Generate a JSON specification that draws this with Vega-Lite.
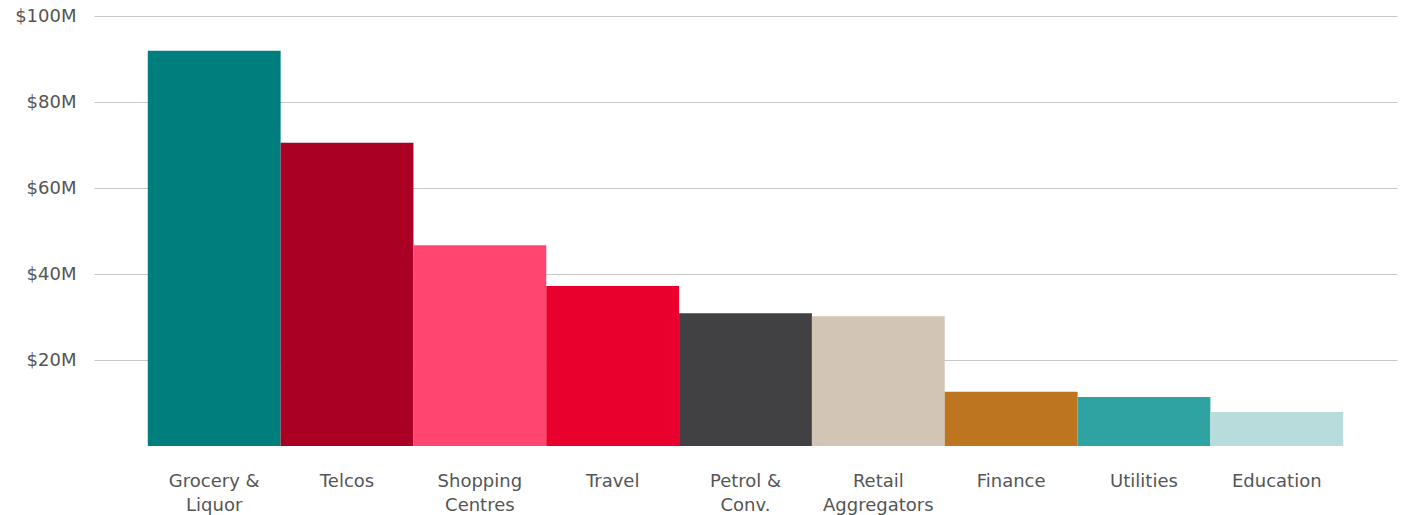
{
  "$schema": "https://vega.github.io/schema/vega-lite/v6.json",
  "autosize": {"type": "none"},
  "width": 1303,
  "height": 430,
  "padding": {"left": 94, "top": 16, "right": 8, "bottom": 69},
  "background": "white",
  "config": {
    "view": {"stroke": null},
    "font": "DejaVu Sans"
  },
  "data": {
    "values": [
      {"category": "Grocery &|Liquor", "value": 91.9, "color": "#007D7D"},
      {"category": "Telcos", "value": 70.5, "color": "#A90023"},
      {"category": "Shopping|Centres", "value": 46.7, "color": "#FF4570"},
      {"category": "Travel", "value": 37.2, "color": "#EA002C"},
      {"category": "Petrol &|Conv.", "value": 30.9, "color": "#414042"},
      {"category": "Retail|Aggregators", "value": 30.2, "color": "#D3C5B5"},
      {"category": "Finance", "value": 12.6, "color": "#BD761F"},
      {"category": "Utilities", "value": 11.4, "color": "#2EA3A1"},
      {"category": "Education", "value": 7.9, "color": "#B8DCDC"}
    ]
  },
  "mark": {"type": "bar"},
  "encoding": {
    "x": {
      "field": "category",
      "type": "nominal",
      "sort": null,
      "scale": {"paddingInner": 0, "paddingOuter": 0.405},
      "axis": {
        "title": null,
        "labelAngle": 0,
        "labelExpr": "split(datum.label, '|')",
        "labelFontSize": 18,
        "labelColor": "#555555",
        "labelLineHeight": 24,
        "labelPadding": 26,
        "ticks": false,
        "domain": false,
        "grid": false,
        "labelLimit": 200
      }
    },
    "y": {
      "field": "value",
      "type": "quantitative",
      "scale": {"domain": [0, 100], "nice": false},
      "axis": {
        "title": null,
        "values": [20, 40, 60, 80, 100],
        "labelExpr": "'$' + datum.value + 'M'",
        "labelFontSize": 18,
        "labelColor": "#555555",
        "labelPadding": 18,
        "ticks": false,
        "domain": false,
        "grid": true,
        "gridColor": "#C8C8C8",
        "gridWidth": 1
      }
    },
    "color": {"field": "color", "type": "nominal", "scale": null, "legend": null}
  }
}
